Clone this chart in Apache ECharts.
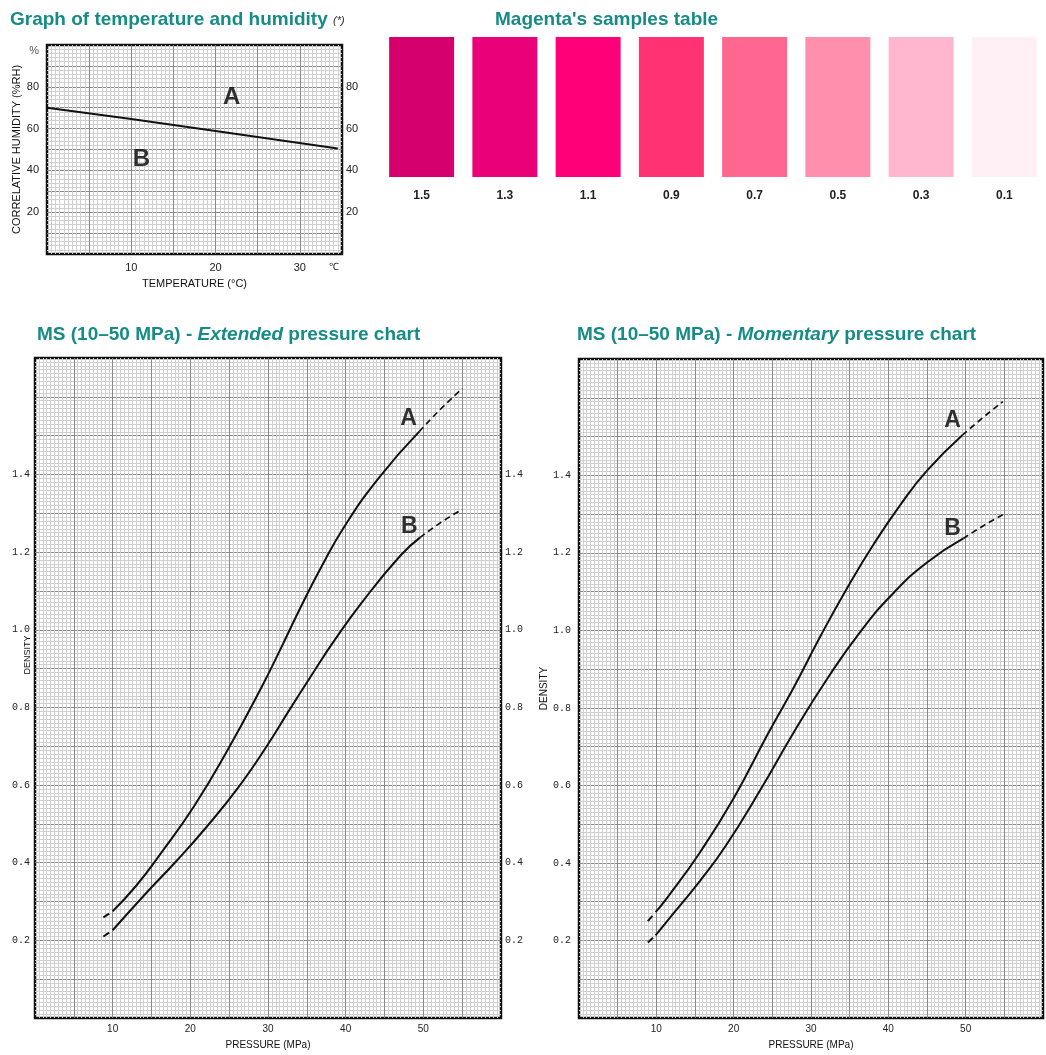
<!DOCTYPE html>
<html><head><meta charset="utf-8">
<script src="https://cdn.jsdelivr.net/npm/echarts@6/dist/echarts.min.js"></script>
<style>html,body{margin:0;padding:0;background:#fff;}#c{width:1046px;height:1055px;}</style>
</head><body><div id="c"></div>
<script>
// ---------- Temperature / humidity graph ----------
const thTemp = [0, 10, 20, 34.5];
const thHum = [70, 64.6, 58.9, 50.5];
const thXTicks = [10, 20, 30];
const thYTicks = [20, 40, 60, 80];
const thLetters = ['A', 'B'];
const thLetterX = [21.9, 11.2];
const thLetterY = [75, 45.5];

// ---------- Magenta samples ----------
const swatchLabels = ['1.5', '1.3', '1.1', '0.9', '0.7', '0.5', '0.3', '0.1'];
const swatchColors = ['#d5006d', '#ea0079', '#ff0079', '#ff3374', '#ff6690', '#ff8fad', '#ffb6ce', '#fff0f5'];
const swatchHeight = [1, 1, 1, 1, 1, 1, 1, 1];

// ---------- Pressure charts ----------
// each curve: 2 leading points (dashed stub), solid middle, last 3 points = solid end + dashed extension
const pressureTicks = [10, 20, 30, 40, 50];
const densityTicks = [0.2, 0.4, 0.6, 0.8, 1.0, 1.2, 1.4];

const extA_P = [8.8, 10, 13, 16.2, 20.5, 24.8, 29.2, 31.7, 34.3, 36.9, 39.9, 44.3, 49.5, 52.2, 55];
const extA_D = [0.259, 0.275, 0.34, 0.424, 0.546, 0.69, 0.853, 0.954, 1.062, 1.163, 1.268, 1.392, 1.511, 1.568, 1.621];
const extB_P = [8.8, 10, 14, 18, 22, 26.4, 30, 32.8, 36, 38.4, 42, 47, 49.6, 52.3, 55];
const extB_D = [0.21, 0.226, 0.315, 0.40, 0.49, 0.60, 0.705, 0.795, 0.895, 0.968, 1.068, 1.19, 1.238, 1.277, 1.31];

const momA_P = [8.9, 9.9, 11.4, 15.7, 20.0, 24.4, 27.8, 31.3, 34.7, 38.1, 41.6, 45.0, 49.6, 52.3, 54.8];
const momA_D = [0.25, 0.273, 0.31, 0.429, 0.567, 0.732, 0.854, 0.988, 1.11, 1.222, 1.325, 1.412, 1.504, 1.55, 1.59];
const momB_P = [8.9, 9.9, 11.4, 15.7, 19.0, 23.5, 27.8, 32.1, 36.4, 40.7, 45.0, 49.7, 52.3, 54.8];
const momB_D = [0.195, 0.213, 0.25, 0.355, 0.445, 0.59, 0.738, 0.875, 0.997, 1.097, 1.175, 1.237, 1.27, 1.298];

const extLetters = ['A', 'B'];
const extLetterP = [48.1, 48.2];
const extLetterD = [1.545, 1.266];
const momLetters = ['A', 'B'];
const momLetterP = [48.3, 48.3];
const momLetterD = [1.542, 1.262];

// ---------- Build ----------
const TEAL = '#178b85';
const SANS = 'Liberation Sans, Arial, sans-serif';
const MONO = 'Liberation Mono, DejaVu Sans Mono, monospace';
const MAJOR = '#8a8a8a';
const MINOR = '#d0d0d0';

function zip(a, b) { return a.map((v, i) => [v, b[i]]); }
function near(list, v) { return list.some(t => Math.abs(t - v) < 1e-6); }

function paperAxis(extra) {
  return Object.assign({
    type: 'value',
    axisLine: { show: false },
    axisTick: { show: false },
    minorTick: { show: false, splitNumber: 10 },
    splitLine: { show: true, showMinLine: false, showMaxLine: false, lineStyle: { color: MAJOR, width: 1 } },
    minorSplitLine: { show: true, lineStyle: { color: MINOR, width: 1 } }
  }, extra);
}
function labelOnlyAxis(extra) {
  return Object.assign({
    type: 'value',
    axisLine: { show: false },
    axisTick: { show: false },
    splitLine: { show: false }
  }, extra);
}

function curveSeries(P, D, xi, yi) {
  const pts = zip(P, D);
  const n = pts.length;
  const head = pts.slice(0, 2);
  const body = pts.slice(1, n - 2);
  const tail = pts.slice(n - 3);
  const base = { type: 'line', xAxisIndex: xi, yAxisIndex: yi, symbol: 'none', silent: true, z: 5 };
  return [
    Object.assign({}, base, { data: head, lineStyle: { color: '#111', width: 2, type: [7, 10] } }),
    Object.assign({}, base, { data: body, smooth: 0.5, lineStyle: { color: '#111', width: 2 } }),
    Object.assign({}, base, { data: tail, smooth: 0.5, lineStyle: { color: '#111', width: 1.7, type: [6, 4] } })
  ];
}
function letterSeries(names, xs, ys, xi, yi, size) {
  return {
    type: 'scatter', xAxisIndex: xi, yAxisIndex: yi, symbolSize: 0, silent: true, z: 6,
    data: names.map((n, i) => ({ name: n, value: [xs[i], ys[i]] })),
    label: { show: true, position: 'inside', formatter: p => p.name, color: '#000', fontSize: size, fontWeight: 'bold',
      fontFamily: SANS }
  };
}

const densFmt = v => (near(densityTicks, v) ? v.toFixed(1) : '');
const presFmt = v => (near(pressureTicks, v) ? String(v) : '');
const bottomTitleStyle = {
  rich: {
    n: { color: TEAL, fontSize: 19, fontWeight: 'bold', fontFamily: SANS },
    i: { color: TEAL, fontSize: 19, fontWeight: 'bold', fontStyle: 'italic', fontFamily: SANS }
  }
};

const option = {
  animation: false,
  backgroundColor: '#fff',
  title: [
    { text: 'Graph of temperature and humidity', left: 10, top: 10, padding: 0,
      textStyle: { color: TEAL, fontSize: 19, fontWeight: 'bold', fontFamily: SANS } },
    { text: '(*)', left: 333, top: 15, padding: 0,
      textStyle: { color: '#333', fontSize: 11, fontStyle: 'italic', fontWeight: 'normal', fontFamily: SANS } },
    { text: "Magenta's samples table", left: 495, top: 10, padding: 0,
      textStyle: { color: TEAL, fontSize: 19, fontWeight: 'bold', fontFamily: SANS } },
    { text: '{n|MS (10–50 MPa) - }{i|Extended}{n| pressure chart}', left: 37, top: 325, padding: 0, textStyle: bottomTitleStyle },
    { text: '{n|MS (10–50 MPa) - }{i|Momentary}{n| pressure chart}', left: 577, top: 325, padding: 0, textStyle: bottomTitleStyle }
  ],
  grid: [
    { left: 47, top: 45, width: 295, height: 209, show: true, borderColor: '#111', borderWidth: 2.5, backgroundColor: '#fff' },
    { left: 380, top: 37, width: 682, height: 140 },
    { left: 35, top: 358, width: 466, height: 660, show: true, borderColor: '#111', borderWidth: 2.5, backgroundColor: '#fff' },
    { left: 579, top: 359, width: 464, height: 659, show: true, borderColor: '#111', borderWidth: 2.5, backgroundColor: '#fff' }
  ],
  xAxis: [
    paperAxis({ gridIndex: 0, min: 0, max: 35, interval: 5,
      axisLabel: { formatter: v => (near(thXTicks, v) ? String(v) : ''), fontSize: 11, color: '#222', fontFamily: SANS, margin: 8 },
      name: 'TEMPERATURE (°C)', nameLocation: 'middle', nameGap: 24,
      nameTextStyle: { fontSize: 11, color: '#111', fontFamily: SANS } }),
    labelOnlyAxis({ gridIndex: 0, min: 0, max: 35, axisLabel: { show: false },
      name: '℃', nameLocation: 'end', nameGap: -13,
      nameTextStyle: { fontSize: 10, color: '#222', fontFamily: SANS, verticalAlign: 'top', padding: [8, 0, 0, 0] } }),
    { gridIndex: 1, type: 'category', data: swatchLabels,
      axisLine: { show: false }, axisTick: { show: false },
      axisLabel: { fontSize: 12, fontWeight: 'bold', color: '#222', fontFamily: SANS, margin: 13 } },
    paperAxis({ gridIndex: 2, min: 0, max: 60, interval: 5,
      axisLabel: { formatter: presFmt, fontSize: 10, color: '#222', fontFamily: SANS, margin: 6 },
      name: 'PRESSURE (MPa)', nameLocation: 'middle', nameGap: 22,
      nameTextStyle: { fontSize: 10, color: '#111', fontFamily: SANS } }),
    paperAxis({ gridIndex: 3, min: 0, max: 60, interval: 5,
      axisLabel: { formatter: presFmt, fontSize: 10, color: '#222', fontFamily: SANS, margin: 6 },
      name: 'PRESSURE (MPa)', nameLocation: 'middle', nameGap: 22,
      nameTextStyle: { fontSize: 10, color: '#111', fontFamily: SANS } })
  ],
  yAxis: [
    Object.assign(paperAxis({ gridIndex: 0, min: 0, max: 100, interval: 10,
      axisLabel: { formatter: v => (near(thYTicks, v) ? String(v) : ''), fontSize: 11, color: '#222', fontFamily: SANS, margin: 8 },
      name: 'CORRELATIVE HUMIDITY (%RH)', nameLocation: 'middle', nameGap: 24,
      nameTextStyle: { fontSize: 11, color: '#111', fontFamily: SANS } }), { minorTick: { show: false, splitNumber: 5 } }),
    labelOnlyAxis({ gridIndex: 0, min: 0, max: 100, interval: 10, position: 'right',
      axisLabel: { formatter: v => (near(thYTicks, v) ? String(v) : ''), fontSize: 11, color: '#222', fontFamily: SANS, margin: 4 } }),
    labelOnlyAxis({ gridIndex: 0, min: 0, max: 100, position: 'left', axisLabel: { show: false },
      name: '%', nameLocation: 'end', nameGap: -11,
      nameTextStyle: { fontSize: 11, color: '#555', fontFamily: SANS, align: 'right', padding: [0, 8, 0, 0] } }),
    { gridIndex: 1, type: 'value', min: 0, max: 1, show: false },
    paperAxis({ gridIndex: 2, min: 0, max: 1.7, interval: 0.1,
      axisLabel: { formatter: densFmt, fontSize: 10, color: '#222', fontFamily: MONO, margin: 5 },
      name: 'DENSITY', nameLocation: 'middle', nameGap: 3, nameMoveOverlap: false,
      nameTextStyle: { fontSize: 9, color: '#111', fontFamily: SANS, padding: [0, 0, 0, 66] } }),
    labelOnlyAxis({ gridIndex: 2, min: 0, max: 1.7, interval: 0.1, position: 'right',
      axisLabel: { formatter: densFmt, fontSize: 10, color: '#222', fontFamily: MONO, margin: 4 } }),
    paperAxis({ gridIndex: 3, min: 0, max: 1.7, interval: 0.1,
      axisLabel: { formatter: densFmt, fontSize: 10, color: '#222', fontFamily: MONO, margin: 8 },
      name: 'DENSITY', nameLocation: 'middle', nameGap: 28,
      nameTextStyle: { fontSize: 10, color: '#111', fontFamily: SANS } })
  ],
  series: [
    { type: 'line', xAxisIndex: 0, yAxisIndex: 0, data: zip(thTemp, thHum), symbol: 'none', silent: true, z: 5,
      lineStyle: { color: '#111', width: 2 } },
    letterSeries(thLetters, thLetterX, thLetterY, 0, 0, 24),
    { type: 'bar', xAxisIndex: 2, yAxisIndex: 3, barWidth: 65, silent: true,
      data: swatchHeight.map((v, i) => ({ value: v, itemStyle: { color: swatchColors[i] } })) },
    ...curveSeries(extA_P, extA_D, 3, 4),
    ...curveSeries(extB_P, extB_D, 3, 4),
    letterSeries(extLetters, extLetterP, extLetterD, 3, 4, 23),
    ...curveSeries(momA_P, momA_D, 4, 6),
    ...curveSeries(momB_P, momB_D, 4, 6),
    letterSeries(momLetters, momLetterP, momLetterD, 4, 6, 23)
  ]
};

const chart = echarts.init(document.getElementById('c'));
chart.setOption(option);
</script>
</body></html>
